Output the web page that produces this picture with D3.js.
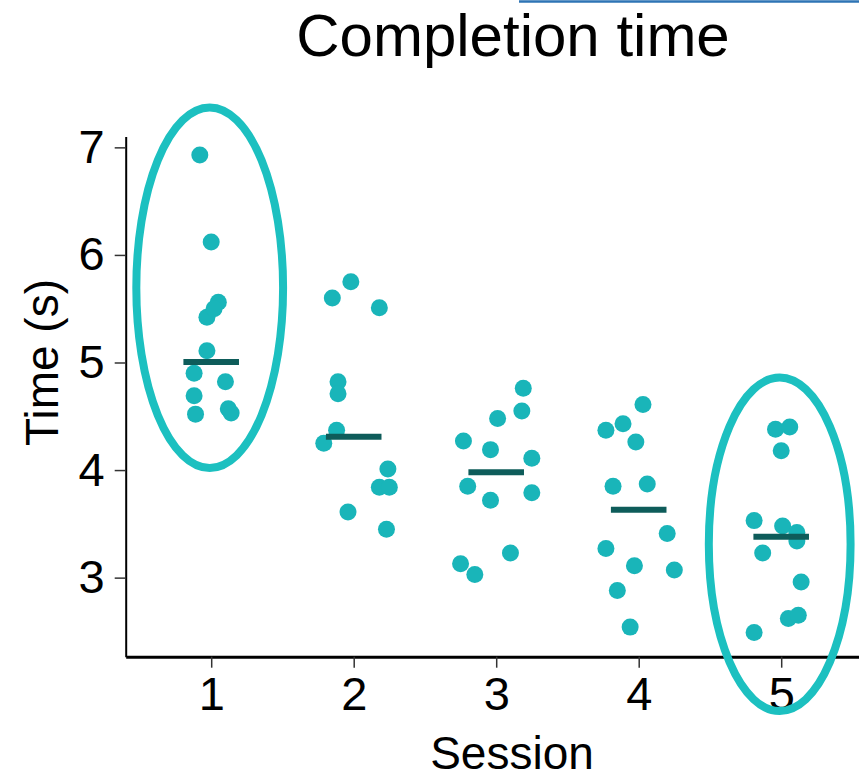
<!DOCTYPE html>
<html>
<head>
<meta charset="utf-8">
<script src="https://cdn.jsdelivr.net/npm/d3@7"></script>
<style>
  body { margin: 0; background: #fff; }
  svg { display: block; font-family: "Liberation Sans", Arial, sans-serif; }
</style>
</head>
<body>
<div id="chart"></div>
<script>
// values, one row of 12 per session
const sessions = [1, 2, 3, 4, 5];
const times = [
  [6.93, 6.12, 5.56, 5.42, 5.11, 4.90, 4.82, 4.69, 4.52, 4.57, 4.53, 5.50],
  [5.75, 5.60, 5.51, 4.82, 4.71, 4.37, 4.25, 4.01, 3.84, 3.84, 3.61, 3.45],
  [4.76, 4.55, 4.48, 4.27, 4.19, 4.11, 3.85, 3.72, 3.79, 3.23, 3.13, 3.03],
  [4.61, 4.37, 4.43, 4.26, 3.85, 3.87, 3.41, 3.27, 3.11, 3.07, 2.88, 2.54],
  [4.38, 4.40, 4.18, 3.53, 3.48, 3.42, 3.34, 3.23, 2.96, 2.62, 2.65, 2.49]
];
// horizontal jitter of each dot, in session units
const jitter = [
  [-0.08, 0.00, 0.05, -0.03, -0.03, -0.12, 0.10, -0.12, -0.11, 0.12, 0.14, 0.02],
  [-0.02, -0.15, 0.18, -0.11, -0.11, -0.12, -0.21, 0.24, 0.18, 0.25, -0.04, 0.23],
  [0.19, 0.18, 0.01, -0.23, -0.04, 0.25, -0.20, -0.04, 0.25, 0.10, -0.25, -0.15],
  [0.03, -0.23, -0.11, -0.02, -0.18, 0.06, 0.20, -0.23, -0.03, 0.25, -0.15, -0.06],
  [-0.04, 0.06, 0.00, -0.19, 0.01, 0.11, 0.11, -0.13, 0.14, 0.05, 0.12, -0.19]
];
const yTicks = [3, 4, 5, 6, 7];
// circled sessions and the value range each ring spans
const ringSessions = [1, 5];
const ringLow = [4.02, 1.76];
const ringHigh = [7.37, 4.86];

const width = 859, height = 780;
const teal = "#19b5b9";

const x = d3.scaleLinear().domain([0.4, 6]).range([125.7, 923.7]);
const y = d3.scaleLinear().domain([2.265, 7.1]).range([656.7, 136.6]);

const svg = d3.select("#chart").append("svg")
  .attr("width", width)
  .attr("height", height);

// stray blue rule at the top edge
svg.append("line")
  .attr("x1", 519).attr("x2", width)
  .attr("y1", 1.5).attr("y2", 1.5)
  .attr("stroke", "#2e74b5")
  .attr("stroke-width", 2.5);

svg.append("text")
  .attr("x", 513).attr("y", 56)
  .attr("text-anchor", "middle")
  .style("font-size", "60px")
  .text("Completion time");

// y axis
const yAxis = svg.append("g")
  .attr("transform", `translate(${x(0.4)},0)`)
  .call(d3.axisLeft(y).tickValues(yTicks).tickFormat(d3.format("d"))
    .tickSize(11).tickPadding(10).tickSizeOuter(0));
yAxis.select(".domain").attr("stroke-width", 2);
yAxis.selectAll(".tick line").attr("stroke", "#333").attr("stroke-width", 1.5);
yAxis.selectAll("text").style("font-size", "47px").attr("fill", "#000")
  .attr("font-family", "Liberation Sans, Arial, sans-serif");

// x axis
const xAxis = svg.append("g")
  .attr("transform", `translate(0,${y(2.265)})`)
  .call(d3.axisBottom(x).tickValues(sessions).tickFormat(d3.format("d"))
    .tickSize(11).tickPadding(9).tickSizeOuter(0));
xAxis.select(".domain").attr("stroke-width", 3);
xAxis.selectAll(".tick line").attr("stroke", "#333").attr("stroke-width", 1.5);
xAxis.selectAll("text").style("font-size", "47px").attr("fill", "#000")
  .attr("font-family", "Liberation Sans, Arial, sans-serif");

svg.append("text")
  .attr("transform", `translate(58,${y(5)}) rotate(-90)`)
  .attr("text-anchor", "middle")
  .style("font-size", "46px")
  .text("Time (s)");

svg.append("text")
  .attr("x", 512).attr("y", 769)
  .attr("text-anchor", "middle")
  .style("font-size", "46px")
  .text("Session");

// dots
const points = [];
sessions.forEach((s, i) => {
  times[i].forEach((v, j) => points.push({ s, v, dx: jitter[i][j] }));
});
svg.append("g")
  .selectAll("circle")
  .data(points)
  .join("circle")
  .attr("cx", (d) => x(d.s + d.dx))
  .attr("cy", (d) => y(d.v))
  .attr("r", 8.5)
  .attr("fill", teal);

// median bars
svg.append("g")
  .selectAll("line")
  .data(sessions)
  .join("line")
  .attr("x1", (d) => x(d - 0.195))
  .attr("x2", (d) => x(d + 0.195))
  .attr("y1", (d, i) => y(d3.median(times[i])))
  .attr("y2", (d, i) => y(d3.median(times[i])))
  .attr("stroke", "#0e5c5a")
  .attr("stroke-width", 6);

// rings round sessions 1 and 5
svg.append("g")
  .selectAll("ellipse")
  .data(ringSessions)
  .join("ellipse")
  .attr("cx", (d) => x(d) - 1.5)
  .attr("cy", (d, i) => (y(ringLow[i]) + y(ringHigh[i])) / 2)
  .attr("rx", (d, i) => (x(1.515) - x(1)) - (i ? 2.5 : 0))
  .attr("ry", (d, i) => (y(ringLow[i]) - y(ringHigh[i])) / 2)
  .attr("fill", "none")
  .attr("stroke", "#1cc0c0")
  .attr("stroke-width", 8);
</script>
</body>
</html>
